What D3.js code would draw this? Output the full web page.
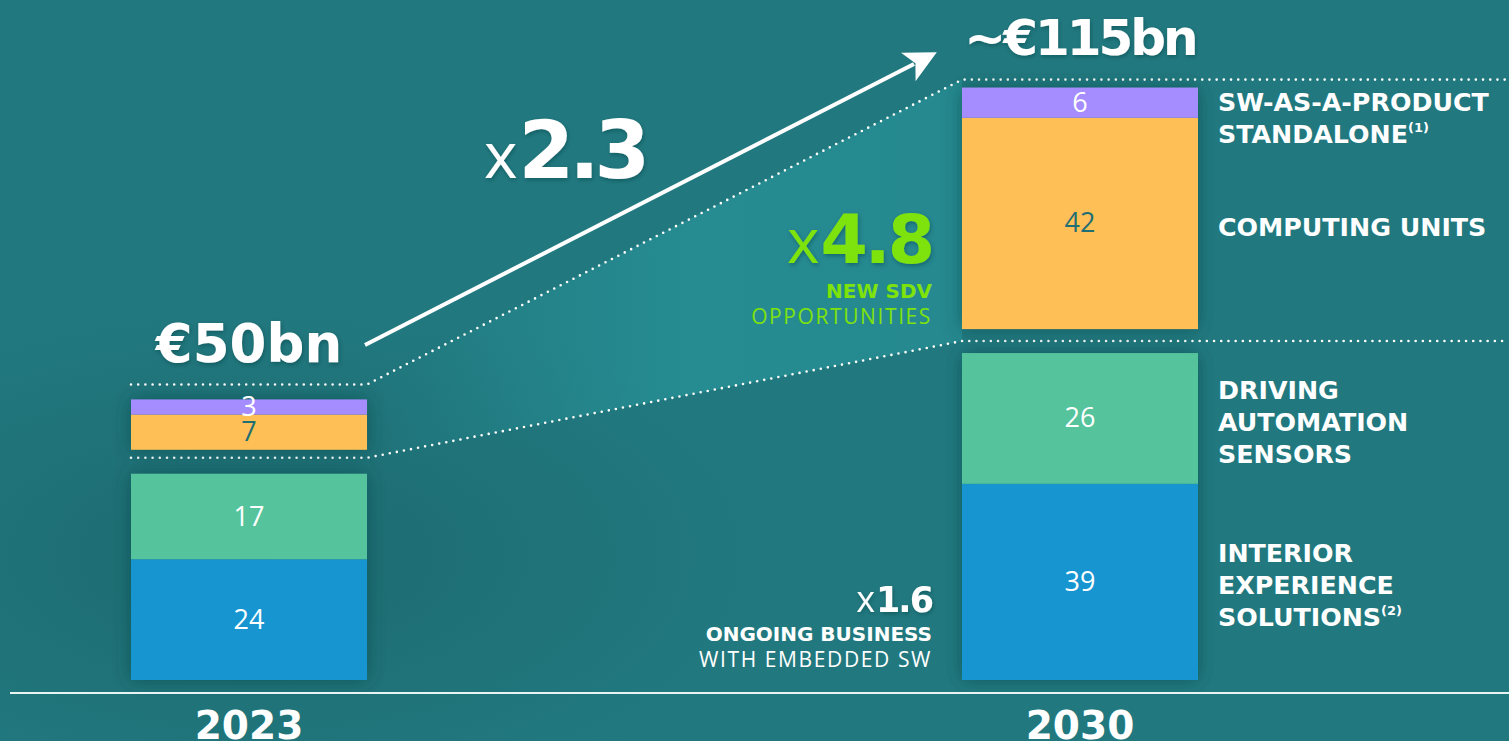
<!DOCTYPE html>
<html><head><meta charset="utf-8">
<script src="https://cdn.jsdelivr.net/npm/d3@7"></script>
<style>html,body{margin:0;padding:0;background:#21797f;overflow:hidden}</style>
</head><body>
<svg id="c" width="1509" height="741"></svg>
<script>
// ---------------- data ----------------
const years = ["2023", "2030"];
const segments = ["Interior Experience Solutions", "Driving Automation Sensors", "Computing Units", "SW-as-a-product standalone"];
const segmentGroup = ["ongoing", "ongoing", "new", "new"];
const values2023 = [24, 17, 7, 3];
const values2030 = [39, 26, 42, 6];
const totalLabels = ["€50bn", "~€115bn"];
const segmentLabelLines = [
  ["INTERIOR", "EXPERIENCE", "SOLUTIONS|(2)"],
  ["DRIVING", "AUTOMATION", "SENSORS"],
  ["COMPUTING UNITS"],
  ["SW-AS-A-PRODUCT", "STANDALONE|(1)"]
];
const growthTotal = ["x", "2.3"];
const growthNew = ["x", "4.8"];
const growthOngoing = ["x", "1.6"];
const newCaption = ["NEW SDV", "OPPORTUNITIES"];
const ongoingCaption = ["ONGOING BUSINESS", "WITH EMBEDDED SW"];

// ---------------- style ----------------
const colors = ["#1595d1", "#55c39b", "#fec057", "#a58cff"];
const labelColors = ["#ffffff", "#ffffff", "#1f6e73", "#ffffff"];
const BOLD = "'DejaVu Sans', sans-serif";
const LIGHT = "'Open Sans', sans-serif";
const W = 1509, H = 741;
const baseY = 680, groupGap = 24;

const svg = d3.select("#c");
const defs = svg.append("defs");

// background
const bgGrad = defs.append("radialGradient").attr("id", "bgShade")
  .attr("cx", 0.17).attr("cy", 0.75).attr("r", 0.35);
bgGrad.append("stop").attr("offset", 0).attr("stop-color", "#1a656b").attr("stop-opacity", 0.7);
bgGrad.append("stop").attr("offset", 1).attr("stop-color", "#1a656b").attr("stop-opacity", 0);
svg.append("rect").attr("width", W).attr("height", H).attr("fill", "#21797f");
svg.append("rect").attr("width", W).attr("height", H).attr("fill", "url(#bgShade)");

const shadow = defs.append("filter").attr("id", "shadow").attr("x", "-20%").attr("y", "-20%").attr("width", "140%").attr("height", "140%");
shadow.append("feDropShadow").attr("dx", 0).attr("dy", 0).attr("stdDeviation", 9)
  .attr("flood-color", "#0c3c40").attr("flood-opacity", 0.55);
const tshadow = defs.append("filter").attr("id", "tshadow");
tshadow.append("feDropShadow").attr("dx", 1).attr("dy", 2).attr("stdDeviation", 2)
  .attr("flood-color", "#0c3c40").attr("flood-opacity", 0.45);

// scales
const x = d3.scaleBand().domain(years).range([131, 1198]).paddingInner(0.716).paddingOuter(0);
const y = d3.scaleLinear().domain([0, 115]).range([baseY, baseY - 115 * 5.03]);

// stack layout
const data = years.map((yr, i) => {
  const vals = i === 0 ? values2023 : values2030;
  let cum = 0, segs = [];
  vals.forEach((v, j) => {
    const gap = segmentGroup[j] === "new" ? groupGap : 0;
    const y1 = y(cum) - gap, y0 = y(cum + v) - gap;
    segs.push({ year: yr, idx: j, value: v, top: y0, bottom: y1 });
    cum += v;
  });
  const ongoingTop = segs.filter(s => segmentGroup[s.idx] === "ongoing").reduce((m, s) => Math.min(m, s.top), baseY);
  const barTop = d3.min(segs, s => s.top);
  return { year: yr, segs, ongoingTop, barTop };
});

// funnel & dotted guides
const d0 = data[0], d1 = data[1];
const xL = x("2023"), xR = x("2030"), bw = x.bandwidth();
const topL = d0.barTop - 15, topR = d1.barTop - 8;
const midL = d0.ongoingTop - 16, midR = d1.ongoingTop - 12;

const fGrad = defs.append("linearGradient").attr("id", "funnel")
  .attr("gradientUnits", "userSpaceOnUse").attr("x1", xL + bw).attr("x2", xR).attr("y1", 0).attr("y2", 0);
fGrad.append("stop").attr("offset", 0).attr("stop-color", "#2a9ca2").attr("stop-opacity", 0);
fGrad.append("stop").attr("offset", 0.55).attr("stop-color", "#2a9ca2").attr("stop-opacity", 0.55);
fGrad.append("stop").attr("offset", 1).attr("stop-color", "#2a9ca2").attr("stop-opacity", 0.45);
svg.append("path")
  .attr("d", `M${xL + bw},${topL} L${xR},${topR} L${xR},${midR} L${xL + bw},${midL} Z`)
  .attr("fill", "url(#funnel)");

const dotted = (pts) => svg.append("path").attr("d", d3.line()(pts))
  .attr("fill", "none").attr("stroke", "#ffffff").attr("stroke-width", 2.6)
  .attr("stroke-linecap", "round").attr("stroke-dasharray", "0,7.2");
dotted([[xL, topL], [xL + bw, topL], [xR, topR], [W, topR]]);
dotted([[xL, midL], [xL + bw, midL], [xR, midR], [W, midR]]);

// bars
const barG = svg.append("g");
data.forEach(d => {
  barG.append("g").attr("filter", "url(#shadow)")
    .selectAll("rect").data(d.segs).join("rect")
    .attr("x", x(d.year)).attr("width", bw)
    .attr("y", s => s.top).attr("height", s => s.bottom - s.top)
    .attr("fill", s => colors[s.idx]);
  barG.selectAll(null).data(d.segs).join("text")
    .attr("x", x(d.year) + bw / 2)
    .attr("y", s => (s.top + s.bottom) / 2 + 9)
    .attr("text-anchor", "middle")
    .attr("font-family", LIGHT).attr("font-weight", 400).attr("font-size", 27)
    .attr("fill", s => labelColors[s.idx])
    .text(s => s.value);
});

// baseline
svg.append("line").attr("x1", 10).attr("x2", W).attr("y1", 693).attr("y2", 693)
  .attr("stroke", "#e8f4f4").attr("stroke-width", 2);

// year labels
svg.selectAll(".yr").data(years).join("text")
  .attr("x", d => x(d) + bw / 2).attr("y", 739)
  .attr("text-anchor", "middle").attr("font-family", BOLD).attr("font-weight", 700)
  .attr("font-size", 39).attr("fill", "#ffffff").text(d => d);

// totals
data.forEach((d, i) => {
  const ty = i === 0 ? topL - 22 : topR - 25;
  svg.append("text").attr("x", x(d.year) + bw / 2).attr("y", ty)
    .attr("text-anchor", "middle").attr("font-family", BOLD).attr("font-weight", 700)
    .attr("font-size", i === 0 ? 53 : 50).attr("letter-spacing", i === 0 ? 0 : -3)
    .attr("fill", "#ffffff").attr("filter", "url(#tshadow)")
    .text(totalLabels[i]);
});

// arrow
defs.append("marker").attr("id", "ah").attr("viewBox", "0 0 10 10").attr("refX", 2).attr("refY", 5)
  .attr("markerWidth", 8).attr("markerHeight", 8).attr("markerUnits", "strokeWidth").attr("orient", "auto")
  .append("path").attr("d", "M0,0 L10,5 L0,10 L2.5,5 Z").attr("fill", "#ffffff");
svg.append("line").attr("x1", 365).attr("y1", 345).attr("x2", 914).attr("y2", 64)
  .attr("stroke", "#ffffff").attr("stroke-width", 4).attr("marker-end", "url(#ah)");

// multiplier helper
function multiplier(xp, yp, parts, anchor, sizeX, sizeN, ls, fill) {
  const t = svg.append("text").attr("x", xp).attr("y", yp).attr("text-anchor", anchor)
    .attr("fill", fill).attr("filter", "url(#tshadow)");
  t.append("tspan").attr("font-family", LIGHT).attr("font-weight", 400).attr("font-size", sizeX).text(parts[0]);
  t.append("tspan").attr("font-family", BOLD).attr("font-weight", 700).attr("font-size", sizeN)
    .attr("letter-spacing", ls).attr("dx", 1).text(parts[1]);
}
multiplier(484, 178, growthTotal, "start", 64, 80, -5, "#ffffff");
multiplier(932, 263, growthNew, "end", 62, 68, -3, "#7ee20b");
multiplier(932, 612, growthOngoing, "end", 36, 35, -2, "#ffffff");

// captions
function caption(xp, yp, lines, fill) {
  svg.append("text").attr("x", xp).attr("y", yp).attr("text-anchor", "end")
    .attr("font-family", BOLD).attr("font-weight", 700).attr("font-size", 20)
    .attr("fill", fill).text(lines[0]);
  svg.append("text").attr("x", xp).attr("y", yp + 26).attr("text-anchor", "end")
    .attr("font-family", LIGHT).attr("font-weight", 400).attr("font-size", 21)
    .attr("letter-spacing", 1.6).attr("fill", fill).text(lines[1]);
}
caption(932, 298, newCaption, "#7ee20b");
caption(932, 641, ongoingCaption, "#ffffff");

// segment labels (right of 2030 bar)
const lx = xR + bw + 20, lh = 32;
d1.segs.forEach(s => {
  const lines = segmentLabelLines[s.idx];
  const center = (s.top + s.bottom) / 2 + 3.5;
  let first = center - (lines.length - 1) * lh / 2 + 9;
  first = Math.max(first, s.top + 23);
  lines.forEach((ln, k) => {
    const [main, sup] = ln.split("|");
    const t = svg.append("text").attr("x", lx).attr("y", first + k * lh)
      .attr("font-family", BOLD).attr("font-weight", 700).attr("font-size", 25.3)
      .attr("fill", "#ffffff").text(main);
    if (sup) t.append("tspan").attr("font-size", 13).attr("dy", -11).text(sup);
  });
});
</script>
</body></html>
